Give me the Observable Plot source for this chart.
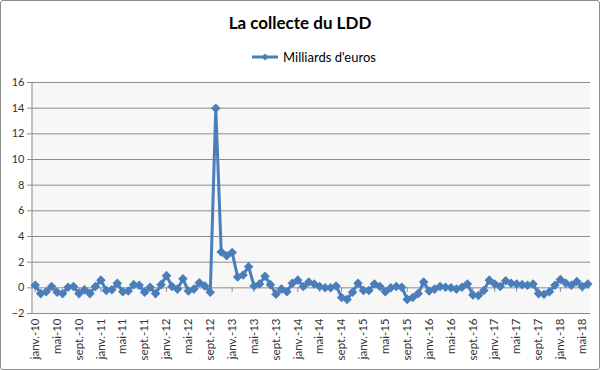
<!DOCTYPE html>
<html>
<head>
<meta charset="utf-8">
<script src="https://cdn.jsdelivr.net/npm/d3@7"></script>
<script src="https://cdn.jsdelivr.net/npm/@observablehq/plot@0.6"></script>
<style>
  html, body { margin: 0; padding: 0; background: #fff; }
  body { width: 600px; height: 370px; position: relative; overflow: hidden; font-family: Lato, "Open Sans", sans-serif; }
  #border { position: absolute; left: 0; top: 0; width: 600px; height: 370px; box-sizing: border-box; border: 1px solid #8c8c8c; border-radius: 3px; pointer-events: none; }
  #title { position: absolute; top: 12px; left: 0; width: 600px; text-align: center; font-weight: bold; font-size: 17px; color: #000; }
  #legend { position: absolute; top: 49px; left: 0; width: 600px; display: flex; justify-content: center; align-items: center; font-size: 13px; color: #000; }
  #legend svg { margin-right: 5px; margin-left: 28px; }
  #chart { position: absolute; left: 0; top: 70px; }
</style>
</head>
<body>
<div id="title">La collecte du LDD</div>
<div id="legend"><svg width="26" height="10"><line x1="0" y1="5" x2="26" y2="5" stroke="#4a7ebb" stroke-width="3"/><path d="M13,1.5 L16.5,5 L13,8.5 L9.5,5 Z" fill="#4a7ebb"/></svg><span>Milliards d'euros</span></div>
<div id="chart"></div>
<div id="border"></div>
<script>
const monthAbbr = ["janv.", "févr.", "mars", "avr.", "mai", "juin", "juil.", "août", "sept.", "oct.", "nov.", "déc."];
const years = ["10", "11", "12", "13", "14", "15", "16", "17", "18"];
const lastMonthCount = 6; // 2018: janv. to juin

const values = [
  0.2, -0.45, -0.3, 0.1, -0.35, -0.45, 0.05, 0.1, -0.45, -0.15, -0.45, 0.1,
  0.6, -0.2, -0.15, 0.35, -0.3, -0.25, 0.25, 0.2, -0.35, 0.05, -0.45, 0.25,
  0.95, 0.1, -0.1, 0.7, -0.25, -0.1, 0.4, 0.15, -0.35, 14.0, 2.8, 2.5,
  2.75, 0.85, 1.0, 1.65, 0.15, 0.3, 0.9, 0.25, -0.5, -0.1, -0.3, 0.35,
  0.6, 0.1, 0.45, 0.3, 0.1, 0.0, 0.0, 0.15, -0.75, -0.9, -0.35, 0.35,
  -0.2, -0.2, 0.3, 0.1, -0.3, 0.0, 0.1, 0.05, -0.9, -0.75, -0.45, 0.45,
  -0.25, -0.1, 0.1, 0.05, 0.0, -0.1, 0.05, 0.3, -0.55, -0.6, -0.2, 0.6,
  0.3, 0.1, 0.55, 0.35, 0.3, 0.25, 0.2, 0.3, -0.45, -0.5, -0.3, 0.2,
  0.65, 0.35, 0.2, 0.5, 0.1, 0.3
];

const yTicks = [-2, 0, 2, 4, 6, 8, 10, 12, 14, 16];

const months = [];
years.forEach((y, yi) => {
  const n = yi === years.length - 1 ? lastMonthCount : 12;
  for (let m = 0; m < n; m++) months.push(monthAbbr[m] + "-" + y);
});
const tickLabels = months.filter((d, i) => i % 4 === 0);
const data = months.map((m, i) => ({month: m, value: values[i]}));

const axisLine = (index, scales, values, dims) => {
  const g = d3.create("svg:line")
    .attr("x1", dims.marginLeft).attr("x2", dims.marginLeft)
    .attr("y1", scales.y(16)).attr("y2", scales.y(-2))
    .attr("stroke", "#868686");
  return g.node();
};

const chart = Plot.plot({
  width: 600,
  height: 300,
  marginTop: 12,
  marginBottom: 57,
  marginLeft: 32,
  marginRight: 10,
  style: {fontFamily: "Lato, 'Open Sans', sans-serif", fontSize: "11px", color: "#333", background: "transparent"},
  x: {type: "point", domain: months, padding: 0.5},
  y: {domain: [-2, 16]},
  marks: [
    Plot.frame({fill: "#f7f7f7", stroke: null}),
    Plot.gridY(yTicks, {stroke: "#8c8c8c", strokeOpacity: 1}),
    Plot.ruleX(tickLabels, {y1: 0, y2: -0.35, stroke: "#8c8c8c"}),
    axisLine,
    Plot.axisY({ticks: yTicks, tickSize: 5, tickPadding: 3, stroke: "#8c8c8c", fontSize: 11, label: null}),
    Plot.axisX({ticks: tickLabels, tickRotate: -90, tickSize: 0, tickPadding: 5, fontSize: 11.5, label: null}),
    Plot.line(data, {x: "month", y: "value", stroke: "#4a7ebb", strokeWidth: 3}),
    Plot.dot(data, {x: "month", y: "value", symbol: "diamond2", r: 4.3, fill: "#4a7ebb", stroke: null})
  ]
});
document.getElementById("chart").appendChild(chart);
</script>
</body>
</html>
